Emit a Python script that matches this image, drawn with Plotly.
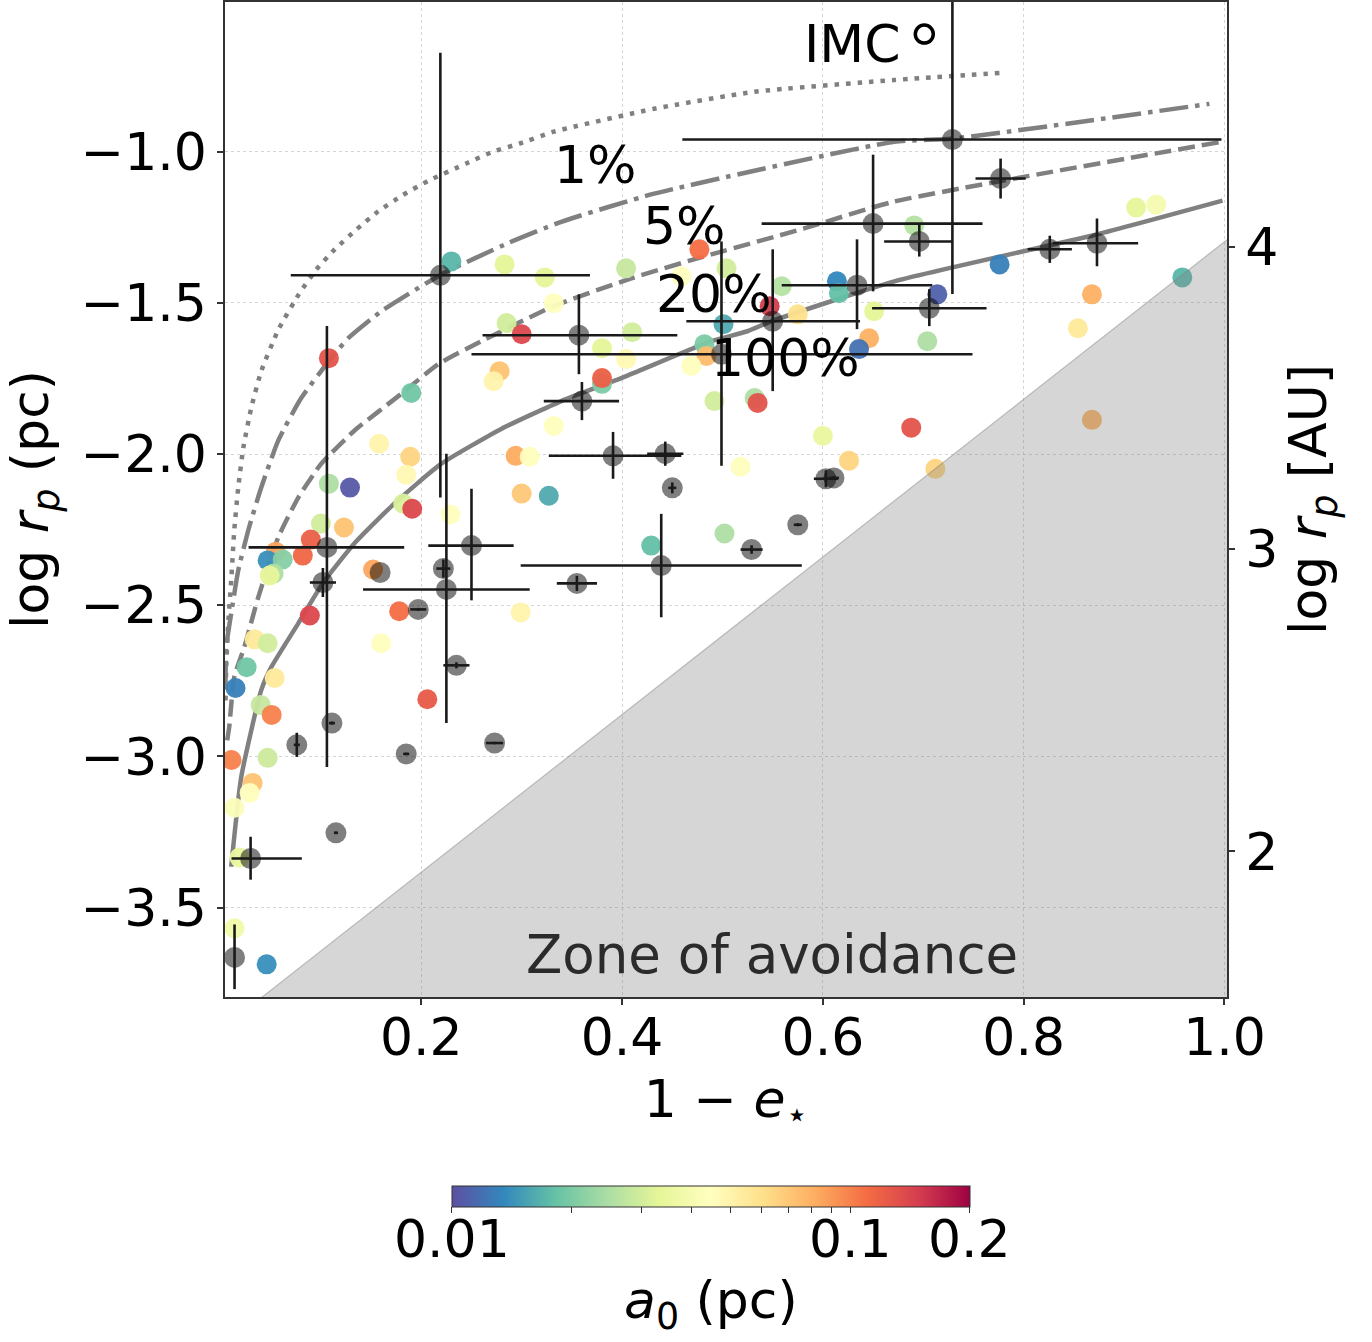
import numpy as np
import plotly.graph_objects as go

# ---------------- data ----------------
# coloured simulations: 1-e*, log r_p (pc), a0 (pc)
col_x = [0.230, 0.283, 0.323, 0.332, 0.285, 0.300, 0.404, 0.459, 0.477, 0.504,
         0.614, 0.616, 0.559, 0.547, 0.575, 0.651, 0.501, 0.646, 0.410, 0.380,
         0.404, 0.380, 0.380, 0.332, 0.327, 0.482, 0.484, 0.469, 0.492, 0.532,
         0.535, 0.600, 0.626, 0.518, 0.502, 0.429, 0.636, 0.691, 0.776, 0.714,
         0.912, 0.932, 0.958, 0.868, 0.854, 0.704, 0.688, 0.712, 0.868, 0.108,
         0.190, 0.158, 0.189, 0.185, 0.108, 0.129, 0.182, 0.191, 0.100, 0.123,
         0.090, 0.082, 0.055, 0.047, 0.062, 0.053, 0.049, 0.229, 0.152, 0.178,
         0.089, 0.160, 0.034, 0.047, 0.294, 0.308, 0.300, 0.278, 0.272, 0.299,
         0.026, 0.054, 0.015, 0.040, 0.051, 0.011, 0.047, 0.032, 0.029, 0.014,
         0.019, 0.014, 0.046, 0.206]
col_y = [-1.363, -1.373, -1.416, -1.501, -1.567, -1.604, -1.386, -1.412, -1.323, -1.386,
         -1.429, -1.468, -1.445, -1.511, -1.538, -1.528, -1.571, -1.617, -1.597, -1.650,
         -1.686, -1.768, -1.749, -1.907, -2.138, -1.637, -1.676, -1.709, -1.825, -1.815,
         -1.831, -1.940, -2.022, -2.042, -2.263, -2.303, -1.653, -1.244, -1.373, -1.472,
         -1.185, -1.175, -1.416, -1.472, -1.584, -1.627, -1.913, -2.049, -1.887, -1.683,
         -1.798, -1.966, -2.009, -2.069, -2.098, -2.111, -2.164, -2.181, -2.230, -2.243,
         -2.283, -2.336, -2.323, -2.352, -2.349, -2.395, -2.402, -2.200, -2.382, -2.520,
         -2.534, -2.626, -2.613, -2.626, -2.006, -2.009, -2.131, -1.726, -1.759, -2.524,
         -2.705, -2.741, -2.774, -2.830, -2.863, -3.012, -3.005, -3.088, -3.121, -3.170,
         -3.335, -3.569, -3.688, -2.811]
col_a0 = [0.017, 0.033, 0.033, 0.045, 0.030, 0.140, 0.028, 0.045, 0.110, 0.030,
          0.0135, 0.018, 0.026, 0.150, 0.060, 0.033, 0.016, 0.080, 0.030, 0.033,
          0.048, 0.020, 0.120, 0.045, 0.016, 0.020, 0.075, 0.045, 0.030, 0.025,
          0.130, 0.035, 0.065, 0.045, 0.025, 0.018, 0.012, 0.026, 0.013, 0.011,
          0.034, 0.040, 0.017, 0.080, 0.055, 0.025, 0.130, 0.065, 0.080, 0.130,
          0.019, 0.050, 0.065, 0.048, 0.025, 0.0105, 0.031, 0.140, 0.030, 0.072,
          0.120, 0.115, 0.085, 0.014, 0.021, 0.025, 0.034, 0.045, 0.085, 0.110,
          0.140, 0.045, 0.055, 0.030, 0.082, 0.045, 0.070, 0.072, 0.050, 0.050,
          0.019, 0.055, 0.013, 0.028, 0.100, 0.100, 0.029, 0.072, 0.045, 0.042,
          0.035, 0.038, 0.014, 0.125]

# observed systems (grey, with uncertainties)
obs_x = [0.219, 0.729, 0.777, 0.650, 0.696, 0.634, 0.706, 0.826, 0.873, 0.550,
         0.357, 0.499, 0.360, 0.391, 0.443, 0.450, 0.575, 0.529, 0.603, 0.611,
         0.439, 0.355, 0.250, 0.225, 0.222, 0.235, 0.197, 0.159, 0.106, 0.102,
         0.111, 0.076, 0.185, 0.273, 0.115, 0.030, 0.014]
obs_y = [-1.409, -0.960, -1.089, -1.238, -1.297, -1.442, -1.518, -1.323, -1.303, -1.561,
         -1.607, -1.670, -1.825, -2.006, -1.999, -2.112, -2.234, -2.316, -2.082, -2.079,
         -2.369, -2.428, -2.303, -2.448, -2.379, -2.699, -2.514, -2.392, -2.309, -2.425,
         -2.890, -2.962, -2.992, -2.956, -3.253, -3.338, -3.665]
obs_xerr_lo = [0.149, 0.269, 0.025, 0.111, 0.035, 0.075, 0.057, 0.022, 0.044, 0.086,
               0.096, 0.249, 0.038, 0.064, 0.018, 0.004, 0.004, 0.011, 0.012, 0.005,
               0.140, 0.020, 0.043, 0.083, 0.007, 0.013, 0.008, 0.0, 0.078, 0.013,
               0.003, 0.003, 0.003, 0.0085, 0.002, 0.019, 0.0]
obs_xerr_hi = [0.149, 0.268, 0.025, 0.109, 0.033, 0.075, 0.057, 0.022, 0.041, 0.087,
               0.098, 0.250, 0.037, 0.068, 0.018, 0.004, 0.004, 0.011, 0.012, 0.005,
               0.140, 0.020, 0.042, 0.083, 0.007, 0.013, 0.008, 0.0, 0.077, 0.013,
               0.003, 0.003, 0.003, 0.0085, 0.002, 0.051, 0.0]
obs_yerr_lo = [0.735, 0.511, 0.066, 0.224, 0.050, 0.145, 0.059, 0.045, 0.076, 0.231,
               0.129, 0.369, 0.063, 0.076, 0.040, 0.018, 0.005, 0.014, 0.028, 0.006,
               0.171, 0.025, 0.181, 0.442, 0.030, 0.010, 0.005, 0.0, 0.726, 0.048,
               0.005, 0.040, 0.004, 0.004, 0.004, 0.070, 0.105]
obs_yerr_hi = [0.736, 0.511, 0.066, 0.228, 0.059, 0.152, 0.063, 0.045, 0.082, 0.238,
               0.135, 0.373, 0.063, 0.079, 0.040, 0.018, 0.005, 0.014, 0.028, 0.006,
               0.171, 0.025, 0.188, 0.449, 0.030, 0.010, 0.005, 0.0, 0.732, 0.048,
               0.005, 0.040, 0.004, 0.004, 0.004, 0.072, 0.109]

# model curves
c1_x = [0.005, 0.0057, 0.0077, 0.0107, 0.0137, 0.0177, 0.0227, 0.0306, 0.0406, 0.0578,
        0.0778, 0.0954, 0.1136, 0.1352, 0.1569, 0.1818, 0.2067, 0.2448, 0.2715, 0.2980,
        0.3320, 0.4320, 0.5318, 0.6712, 0.7788]
c1_y = [-2.815, -2.705, -2.560, -2.418, -2.253, -2.111, -1.980, -1.848, -1.726, -1.588,
        -1.473, -1.390, -1.324, -1.258, -1.198, -1.143, -1.097, -1.039, -1.000, -0.973,
        -0.934, -0.858, -0.802, -0.763, -0.739]
c5_x = [0.005, 0.0057, 0.0107, 0.0177, 0.0276, 0.0406, 0.0575, 0.0804, 0.1133, 0.1273,
        0.1602, 0.2200, 0.2868, 0.3395, 0.4320, 0.6712, 0.729, 0.985]
c5_y = [-2.78, -2.639, -2.527, -2.385, -2.253, -2.111, -1.956, -1.815, -1.670, -1.617,
        -1.528, -1.406, -1.302, -1.232, -1.139, -0.967, -0.957, -0.842]
c20_x = [0.0067, 0.0087, 0.0137, 0.0237, 0.0376, 0.0575, 0.0775, 0.1004, 0.1333, 0.1801,
         0.2169, 0.2598, 0.3325, 0.4092, 0.4750, 0.5813, 0.6712, 0.998]
c20_y = [-2.947, -2.903, -2.738, -2.639, -2.474, -2.276, -2.144, -2.032, -1.923, -1.801,
         -1.703, -1.627, -1.510, -1.419, -1.353, -1.254, -1.165, -0.967]
c100_x = [0.0107, 0.0207, 0.0406, 0.0506, 0.0775, 0.1024, 0.1333, 0.1731, 0.2200, 0.2797,
          0.3395, 0.3993, 0.4889, 0.5248, 0.5487, 0.6712, 0.8725, 0.998]
c100_y = [-3.365, -3.068, -2.781, -2.705, -2.560, -2.425, -2.296, -2.164, -2.032, -1.917,
          -1.825, -1.749, -1.627, -1.594, -1.561, -1.429, -1.274, -1.162]

curve_labels = ["1%", "5%", "20%", "100%"]
label_x = [0.374, 0.462, 0.492, 0.563]
label_y = [-1.043, -1.247, -1.472, -1.683]

imc_x = [0.701]
imc_y = [-0.611]

# zone of avoidance boundary
zone_x = [0.040, 1.003, 1.003]
zone_y = [-3.80, -1.29, -3.80]

x_ticks = [0.2, 0.4, 0.6, 0.8, 1.0]
y_ticks = [-3.5, -3.0, -2.5, -2.0, -1.5, -1.0]
y2_ticks = [2, 3, 4]
cb_major = [0.01, 0.1, 0.2]
cb_major_text = ["0.01", "0.1", "0.2"]
cb_minor = [0.02, 0.03, 0.04, 0.05, 0.06, 0.07, 0.08, 0.09]

X_RANGE = [0.0045, 1.0025]
Y_RANGE = [-3.796, -0.505]
LOG_AU_PER_PC = np.log10(206264.8)
A0_MIN, A0_MAX = 0.01, 0.2

FONT = "DejaVu Sans"
FS = 52
GREY = "#808080"

# colorbar geometry (paper coords; plot area is 1002 x 997 px)
CB_X, CB_LEN_PX, CB_Y = 0.485, 518, -0.1896

fig = go.Figure()

# model curves
for cx, cy, dash in [(c1_x, c1_y, "4.5px,7px"), (c5_x, c5_y, "29px,7px,4.5px,7px"),
                     (c20_x, c20_y, "17px,7px"), (c100_x, c100_y, "solid")]:
    fig.add_trace(go.Scatter(x=cx, y=cy, mode="lines", showlegend=False, hoverinfo="skip",
                             line=dict(color=GREY, width=4.5, dash=dash, shape="spline",
                                       smoothing=0.5)))

# coloured points
lo, hi = np.log10(A0_MIN), np.log10(A0_MAX)
tickvals = [np.log10(v) for v in cb_major + cb_minor]
fig.add_trace(go.Scatter(
    x=col_x, y=col_y, mode="markers", showlegend=False,
    marker=dict(size=20, color=np.log10(col_a0), colorscale="Spectral_r",
                cmin=lo, cmax=hi, opacity=0.95, line=dict(width=0),
                colorbar=dict(orientation="h", x=CB_X, xanchor="center", y=CB_Y,
                              yanchor="top", len=CB_LEN_PX, lenmode="pixels", thickness=21,
                              thicknessmode="pixels", xpad=0, ypad=0,
                              tickvals=tickvals, showticklabels=False,
                              ticks="outside", ticklen=6, tickcolor="#333",
                              outlinewidth=1, outlinecolor="#333"))))

# grey observed points
fig.add_trace(go.Scatter(x=obs_x, y=obs_y, mode="markers", showlegend=False,
                         marker=dict(size=21, color="rgba(0,0,0,0.5)", line=dict(width=0))))
# error bars on top
fig.add_trace(go.Scatter(
    x=obs_x, y=obs_y, mode="markers", showlegend=False, hoverinfo="skip",
    marker=dict(size=1, color="rgba(0,0,0,0)"),
    error_x=dict(type="data", symmetric=False, array=obs_xerr_hi, arrayminus=obs_xerr_lo,
                 color="#1a1a1a", thickness=2.6, width=0),
    error_y=dict(type="data", symmetric=False, array=obs_yerr_hi, arrayminus=obs_yerr_lo,
                 color="#1a1a1a", thickness=2.6, width=0)))

# IMC marker
fig.add_trace(go.Scatter(x=imc_x, y=imc_y, mode="markers", showlegend=False,
                         marker=dict(symbol="circle-open", size=18, color="black",
                                     line=dict(width=3.5, color="black"))))

# zone of avoidance (drawn on top, semi-transparent)
fig.add_trace(go.Scatter(x=zone_x, y=zone_y, mode="lines", fill="toself", showlegend=False,
                         hoverinfo="skip", fillcolor="rgba(128,128,128,0.32)",
                         line=dict(color="rgba(128,128,128,0.45)", width=1.2)))

# dummy trace for right axis
fig.add_trace(go.Scatter(x=[None], y=[None], yaxis="y2", showlegend=False))

annos = []
for t, lx, ly in zip(curve_labels, label_x, label_y):
    annos.append(dict(x=lx, y=ly, xref="x", yref="y", text=t, showarrow=False,
                      font=dict(family=FONT, size=FS, color="black")))
annos.append(dict(x=0.629, y=-0.644, xref="x", yref="y", text="IMC", showarrow=False,
                  font=dict(family=FONT, size=FS, color="black")))
annos.append(dict(x=0.549, y=-3.657, xref="x", yref="y", text="Zone of avoidance",
                  showarrow=False, font=dict(family=FONT, size=53, color="#2b2b2b")))

# colorbar tick labels and title (positioned along the log colour scale)
cb_left = CB_X - CB_LEN_PX / 1002 / 2
cb_w = CB_LEN_PX / 1002
for v, t in zip(cb_major, cb_major_text):
    frac = (np.log10(v) - lo) / (hi - lo)
    annos.append(dict(x=cb_left + frac * cb_w, y=-0.2437, xref="paper", yref="paper",
                      text=t, showarrow=False, xanchor="center", yanchor="middle",
                      font=dict(family=FONT, size=FS, color="black")))
annos.append(dict(x=CB_X, y=-0.3089, xref="paper", yref="paper",
                  text="<i>a</i><sub>0</sub> (pc)", showarrow=False, xanchor="center",
                  yanchor="middle", font=dict(family=FONT, size=FS, color="black")))

axis_common = dict(showline=True, linecolor="#333", linewidth=1.5, ticks="outside",
                   ticklen=6, tickwidth=1.5, tickcolor="#333",
                   tickfont=dict(family=FONT, size=FS, color="black"), zeroline=False)

fig.update_layout(
    width=1372, height=1342,
    margin=dict(l=225, r=145, t=0, b=345, pad=0),
    paper_bgcolor="white", plot_bgcolor="white",
    font=dict(family=FONT, size=FS, color="black"),
    annotations=annos,
    xaxis=dict(range=X_RANGE, tickvals=x_ticks, tickformat=".1f", mirror=True,
               showgrid=True, gridcolor="#d5d5d5", griddash="dot", gridwidth=1,
               ticklabelstandoff=-12,
               title=dict(text="1 − <i>e</i><sub>⋆</sub>", standoff=14,
                          font=dict(family=FONT, size=FS)), **axis_common),
    yaxis=dict(range=Y_RANGE, tickvals=y_ticks, tickformat=".1f", mirror=True,
               showgrid=True, gridcolor="#d5d5d5", griddash="dot", gridwidth=1,
               title=dict(text="log <i>r<sub>p</sub></i> (pc)", standoff=22,
                          font=dict(family=FONT, size=FS)), **axis_common),
    yaxis2=dict(range=[Y_RANGE[0] + LOG_AU_PER_PC, Y_RANGE[1] + LOG_AU_PER_PC],
                overlaying="y", side="right", tickvals=y2_ticks, showgrid=False,
                title=dict(text="log <i>r<sub>p</sub></i> [AU]", standoff=12,
                           font=dict(family=FONT, size=FS)), **axis_common),
)

fig.write_html("out.html")
